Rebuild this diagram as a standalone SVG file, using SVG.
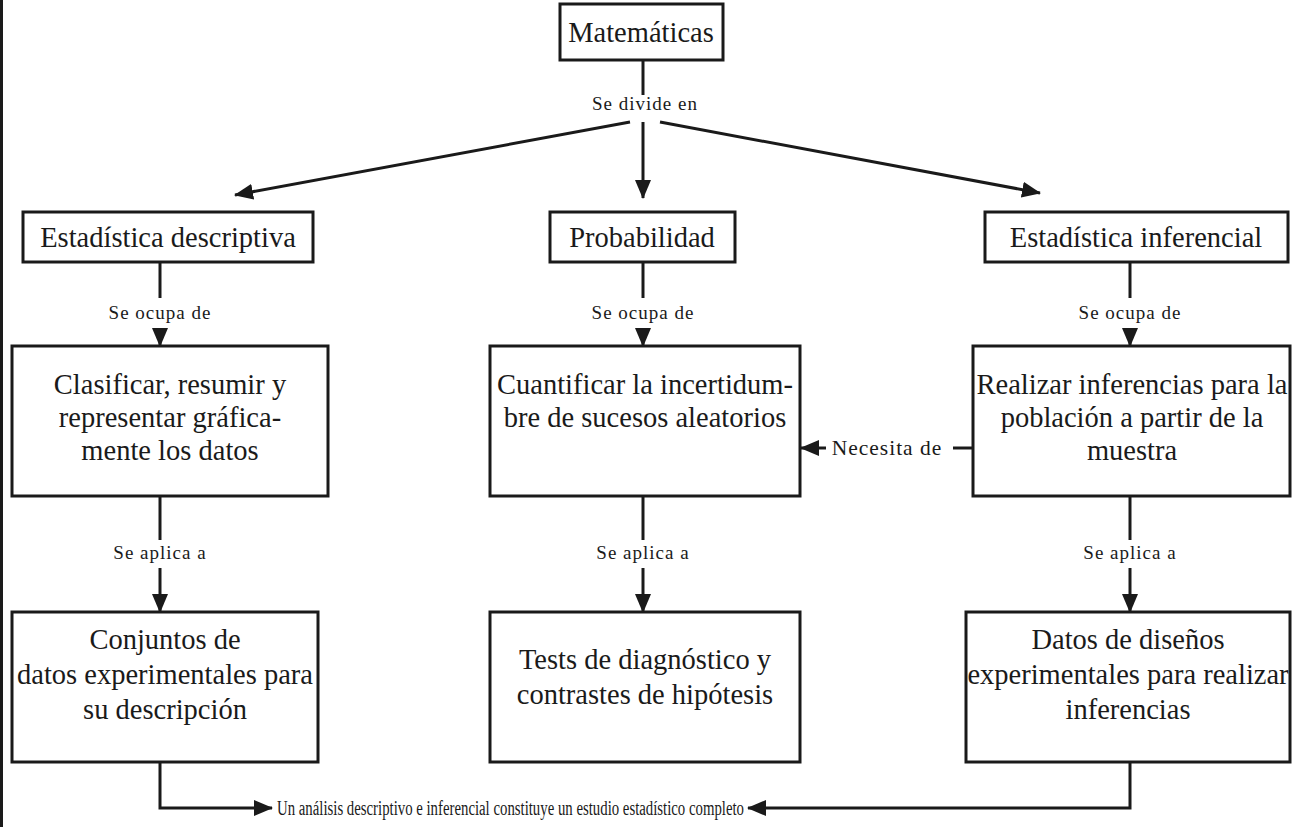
<svg xmlns="http://www.w3.org/2000/svg" width="1292" height="827" viewBox="0 0 1292 827">
<style>
.box{fill:#fff;stroke:#1a1a1a;stroke-width:3}
.t{font-family:"Liberation Serif","Times New Roman",serif;font-size:28.5px;fill:#1a1a1a;text-anchor:middle}
.l{font-family:"Liberation Serif","Times New Roman",serif;font-size:19px;fill:#1a1a1a;text-anchor:middle;letter-spacing:1px}
.b{font-family:"Liberation Serif","Times New Roman",serif;font-size:20px;fill:#1a1a1a}
.c{fill:none;stroke:#1a1a1a;stroke-width:3}
.a{marker-end:url(#ah)}
</style>
<defs>
<marker id="ah" markerUnits="userSpaceOnUse" markerWidth="19" markerHeight="16" refX="18" refY="8" orient="auto">
<path d="M0,0 L19,8 L0,16 Z" fill="#1a1a1a"/>
</marker>
</defs>
<rect width="1292" height="827" fill="#fff"/>
<line x1="1.5" y1="0" x2="1.5" y2="827" stroke="#1a1a1a" stroke-width="3"/>
<g id="connectors">
<line class="c" x1="643" y1="60" x2="643" y2="95"/>
<text class="l" x="645" y="110">Se divide en</text>
<line class="c a" x1="630" y1="122" x2="235" y2="195"/>
<line class="c a" x1="643" y1="122" x2="643" y2="198"/>
<line class="c a" x1="660" y1="122" x2="1040" y2="193"/>

<line class="c" x1="160" y1="262" x2="160" y2="298"/>
<text class="l" x="160" y="319">Se ocupa de</text>
<line class="c a" x1="160" y1="328" x2="160" y2="346"/>
<line class="c" x1="643" y1="262" x2="643" y2="298"/>
<text class="l" x="643" y="319">Se ocupa de</text>
<line class="c a" x1="643" y1="328" x2="643" y2="346"/>
<line class="c" x1="1130" y1="262" x2="1130" y2="298"/>
<text class="l" x="1130" y="319">Se ocupa de</text>
<line class="c a" x1="1130" y1="328" x2="1130" y2="346"/>

<line class="c" x1="973" y1="448" x2="953" y2="448"/>
<text class="l" x="887" y="455" style="font-size:21.5px;letter-spacing:1px">Necesita de</text>
<line class="c a" x1="826" y1="448" x2="801" y2="448"/>

<line class="c" x1="160" y1="496" x2="160" y2="540"/>
<text class="l" x="160" y="559">Se aplica a</text>
<line class="c a" x1="160" y1="568" x2="160" y2="612"/>
<line class="c" x1="643" y1="496" x2="643" y2="540"/>
<text class="l" x="643" y="559">Se aplica a</text>
<line class="c a" x1="643" y1="568" x2="643" y2="612"/>
<line class="c" x1="1130" y1="496" x2="1130" y2="540"/>
<text class="l" x="1130" y="559">Se aplica a</text>
<line class="c a" x1="1130" y1="568" x2="1130" y2="612"/>

<polyline class="c a" points="160,762 160,808 272,808"/>
<polyline class="c a" points="1130,762 1130,808 748,808"/>
<text class="b" x="277" y="815" textLength="467" lengthAdjust="spacingAndGlyphs">Un análisis descriptivo e inferencial constituye un estudio estadístico completo</text>
</g>
<g id="n-matematicas">
<rect class="box" x="560" y="4" width="163" height="56"/>
<text class="t" x="641" y="42">Matemáticas</text>
</g>
<g id="n-descriptiva">
<rect class="box" x="23" y="212" width="290" height="50"/>
<text class="t" x="168" y="247">Estadística descriptiva</text>
</g>
<g id="n-probabilidad">
<rect class="box" x="550" y="212" width="185" height="50"/>
<text class="t" x="642" y="247">Probabilidad</text>
</g>
<g id="n-inferencial">
<rect class="box" x="985" y="212" width="303" height="50"/>
<text class="t" x="1136" y="247">Estadística inferencial</text>
</g>
<g id="n-clasificar">
<rect class="box" x="12" y="346" width="316" height="150"/>
<text class="t" x="170" y="394">Clasificar, resumir y</text>
<text class="t" x="170" y="427">representar gráfica-</text>
<text class="t" x="170" y="460">mente los datos</text>
</g>
<g id="n-cuantificar">
<rect class="box" x="490" y="346" width="310" height="150"/>
<text class="t" x="645" y="394">Cuantificar la incertidum-</text>
<text class="t" x="645" y="427">bre de sucesos aleatorios</text>
</g>
<g id="n-realizar">
<rect class="box" x="973" y="346" width="317" height="150"/>
<text class="t" x="1132" y="394">Realizar inferencias para la</text>
<text class="t" x="1132" y="427">población a partir de la</text>
<text class="t" x="1132" y="460">muestra</text>
</g>
<g id="n-conjuntos">
<rect class="box" x="12" y="612" width="306" height="150"/>
<text class="t" x="165" y="649">Conjuntos de</text>
<text class="t" x="165" y="684">datos experimentales para</text>
<text class="t" x="165" y="719">su descripción</text>
</g>
<g id="n-tests">
<rect class="box" x="490" y="612" width="310" height="150"/>
<text class="t" x="645" y="669">Tests de diagnóstico y</text>
<text class="t" x="645" y="704">contrastes de hipótesis</text>
</g>
<g id="n-datos">
<rect class="box" x="966" y="612" width="324" height="150"/>
<text class="t" x="1128" y="649">Datos de diseños</text>
<text class="t" x="1128" y="684">experimentales para realizar</text>
<text class="t" x="1128" y="719">inferencias</text>
</g>
</svg>
